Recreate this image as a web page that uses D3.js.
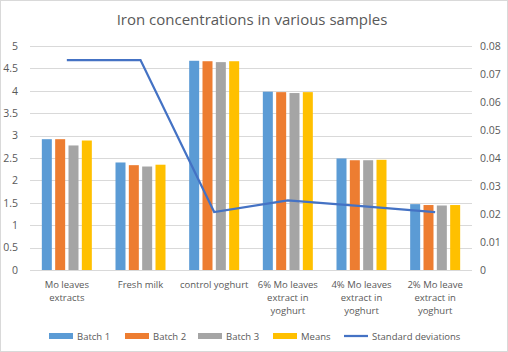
<!DOCTYPE html>
<html>
<head>
<meta charset="utf-8">
<script src="https://cdn.jsdelivr.net/npm/d3@7"></script>
<style>
  body { margin: 0; background: #fff; }
  svg text { font-family: "Open Sans", "Noto Sans", sans-serif; fill: #595959; }
</style>
</head>
<body>
<div id="chart"></div>
<script>
const categories = [
  ['Mo leaves', 'extracts'],
  ['Fresh milk'],
  ['control yoghurt'],
  ['6% Mo leaves', 'extract in', 'yoghurt'],
  ['4% Mo leaves', 'extract in', 'yoghurt'],
  ['2% Mo leave', 'extract in', 'yoghurt']
];
const seriesNames = ['Batch 1', 'Batch 2', 'Batch 3', 'Means'];
const batch1 = [2.92, 2.40, 4.67, 3.98, 2.49, 1.47];
const batch2 = [2.92, 2.34, 4.66, 3.97, 2.45, 1.45];
const batch3 = [2.78, 2.31, 4.64, 3.95, 2.45, 1.44];
const means  = [2.89, 2.35, 4.66, 3.97, 2.46, 1.45];
const stdDevs = [0.075, 0.075, 0.0207, 0.0249, 0.0228, 0.0207];
const leftTicks = [0, 0.5, 1, 1.5, 2, 2.5, 3, 3.5, 4, 4.5, 5];
const rightTicks = [0, 0.01, 0.02, 0.03, 0.04, 0.05, 0.06, 0.07, 0.08];
const colors = ['#5B9BD5', '#ED7D31', '#A5A5A5', '#FFC000'];
const lineColor = '#4472C4';

const width = 508, height = 352;
const margin = { top: 46, right: 36, bottom: 82, left: 30 };
const innerW = width - margin.left - margin.right;
const innerH = height - margin.top - margin.bottom;

const svg = d3.select('#chart').append('svg')
  .attr('width', width)
  .attr('height', height);

// chart border
svg.append('rect')
  .attr('x', 0.5).attr('y', 0.5)
  .attr('width', width - 1).attr('height', height - 1)
  .attr('fill', 'none').attr('stroke', '#d9d9d9');

svg.append('text')
  .attr('x', 252).attr('y', 25)
  .attr('text-anchor', 'middle')
  .style('font-size', '15px')
  .text('Iron concentrations in various samples');

const chart = svg.append('g')
  .attr('transform', `translate(${margin.left},${margin.top})`);

const cats = d3.range(categories.length);
const xScale = d3.scaleBand().domain(cats).range([0, innerW]);
const groupW = 50;
const x1 = d3.scaleBand().domain(d3.range(seriesNames.length)).range([0, groupW]).paddingInner(0.25);
const yLeft = d3.scaleLinear().domain([0, 5]).range([innerH, 0]);
const yRight = d3.scaleLinear().domain([0, 0.08]).range([innerH, 0]);

// gridlines
chart.append('g')
  .selectAll('line')
  .data(leftTicks)
  .join('line')
  .attr('x1', 0).attr('x2', innerW)
  .attr('y1', d => Math.round(yLeft(d)) + 0.5)
  .attr('y2', d => Math.round(yLeft(d)) + 0.5)
  .attr('stroke', '#d9d9d9');

// axes
const leftAxis = chart.append('g')
  .call(d3.axisLeft(yLeft).tickValues(leftTicks).tickSize(0).tickPadding(12).tickFormat(d3.format('')));
leftAxis.select('.domain').remove();
leftAxis.selectAll('text').style('font-size', '10.5px').attr('fill', '#595959');

const rightAxis = chart.append('g')
  .attr('transform', `translate(${innerW},0)`)
  .call(d3.axisRight(yRight).tickValues(rightTicks).tickSize(0).tickPadding(8).tickFormat(d3.format('')));
rightAxis.select('.domain').remove();
rightAxis.selectAll('text').style('font-size', '10.5px').attr('fill', '#595959');

// bars
const seriesData = [batch1, batch2, batch3, means];
const groupOffset = (xScale.bandwidth() - groupW) / 2;
seriesData.forEach((vals, si) => {
  chart.append('g')
    .selectAll('rect')
    .data(vals)
    .join('rect')
    .attr('x', (d, i) => xScale(i) + groupOffset + x1(si))
    .attr('y', d => yLeft(d))
    .attr('width', x1.bandwidth())
    .attr('height', d => innerH - yLeft(d))
    .attr('fill', colors[si]);
});

// standard deviation line
const line = d3.line()
  .x((d, i) => xScale(i) + xScale.bandwidth() / 2)
  .y(d => yRight(d));
chart.append('path')
  .datum(stdDevs)
  .attr('d', line)
  .attr('fill', 'none')
  .attr('stroke', lineColor)
  .attr('stroke-width', 2.25);

// category labels
const xLabels = chart.append('g')
  .attr('transform', `translate(0,${innerH})`)
  .selectAll('text')
  .data(categories)
  .join('text')
  .attr('text-anchor', 'middle')
  .style('font-size', '9.5px')
  .attr('x', (d, i) => xScale(i) + xScale.bandwidth() / 2)
  .attr('y', 18);
xLabels.selectAll('tspan')
  .data(d => d)
  .join('tspan')
  .attr('x', function () { return d3.select(this.parentNode).attr('x'); })
  .attr('dy', (d, i) => i === 0 ? 0 : 13)
  .text(d => d);

// legend
const legendItems = [
  { name: 'Batch 1', x: 49, type: 'rect', color: colors[0] },
  { name: 'Batch 2', x: 125, type: 'rect', color: colors[1] },
  { name: 'Batch 3', x: 198, type: 'rect', color: colors[2] },
  { name: 'Means', x: 273, type: 'rect', color: colors[3] },
  { name: 'Standard deviations', x: 344, type: 'line', color: lineColor }
];
const legend = svg.append('g').attr('transform', 'translate(0,336)');
legendItems.forEach(it => {
  if (it.type === 'rect') {
    legend.append('rect')
      .attr('x', it.x).attr('y', -3)
      .attr('width', 24).attr('height', 6)
      .attr('fill', it.color);
  } else {
    legend.append('line')
      .attr('x1', it.x).attr('x2', it.x + 24)
      .attr('y1', 0).attr('y2', 0)
      .attr('stroke', it.color).attr('stroke-width', 2.25);
  }
  legend.append('text')
    .attr('x', it.x + 28).attr('y', 3.5)
    .style('font-size', '9.5px')
    .text(it.name);
});
</script>
</body>
</html>
